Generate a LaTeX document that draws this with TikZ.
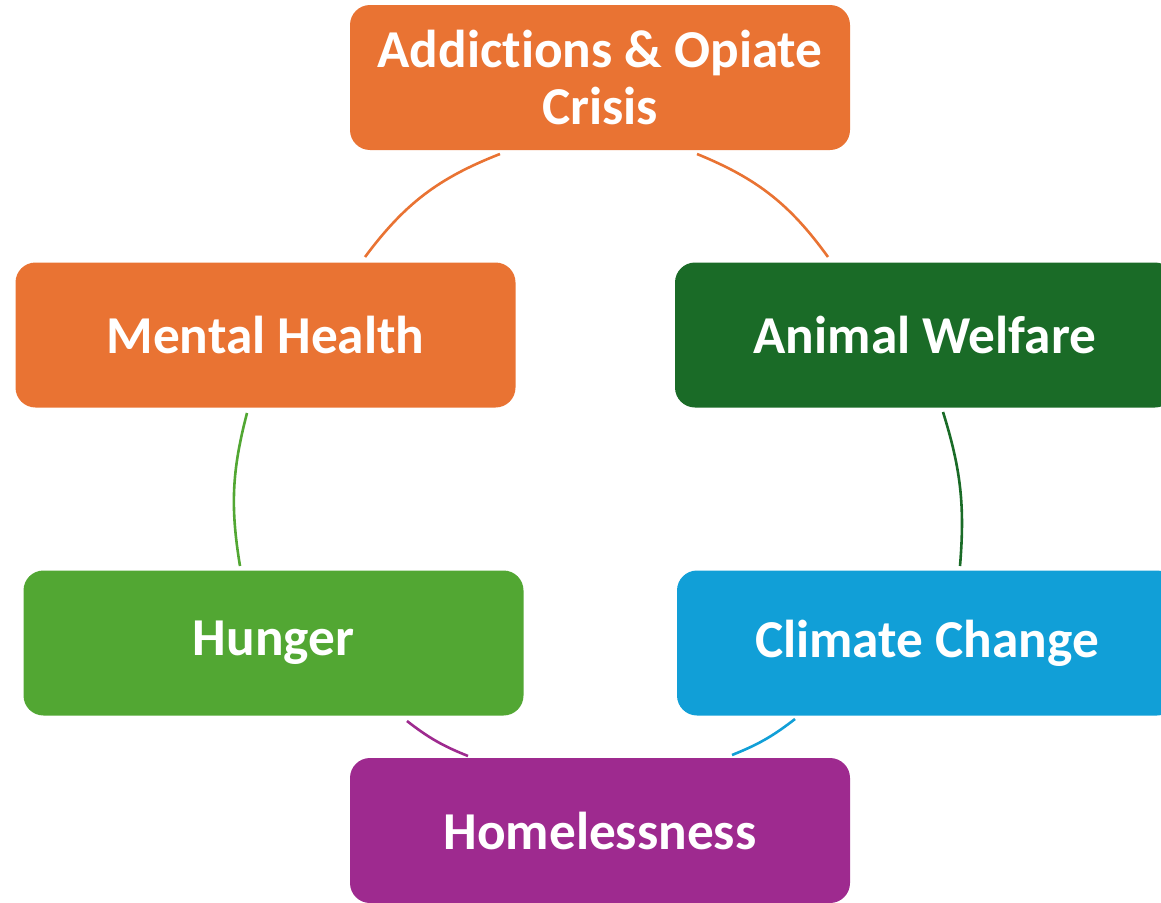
\documentclass[tikz,border=0pt]{standalone}
\usepackage{fontspec}
\setmainfont{Carlito}[Ligatures=NoCommon]
\definecolor{corange}{HTML}{E97333}
\definecolor{cdgreen}{HTML}{1A6B27}
\definecolor{cgreen}{HTML}{52A733}
\definecolor{cblue}{HTML}{119FD7}
\definecolor{cpurple}{HTML}{9E2A8F}
\begin{document}
\begin{tikzpicture}[x=1pt,y=-1pt,
  box/.style={rounded corners=20pt, minimum width=500pt, minimum height=145pt, inner sep=0pt,
    text=white, align=center, font=\fontsize{53.3}{57}\selectfont\bfseries},
  arcline/.style={line width=2.6pt}]
\useasboundingbox (0,0) rectangle (1161,902);
\node[box, fill=corange] (add) at (600,77.5) {Addictions \& Opiate\\Crisis};
\node[box, fill=corange] (mh) at (265.5,335) {Mental Health};
\node[box, fill=cdgreen] (aw) at (925,335) {Animal Welfare};
\node[box, fill=cgreen] (hu) at (273.5,643) {Hunger};
\node[box, fill=cblue] (cc) at (927,643) {Climate Change};
\node[box, fill=cpurple] (ho) at (600,830.5) {Homelessness};
% arc end points
\coordinate (a1) at (500,154);
\coordinate (a2) at (365,257);
\coordinate (b1) at (247,413);
\coordinate (b2) at (240,566);
\coordinate (c1) at (407,721);
\coordinate (c2) at (468,756);
\coordinate (d1) at (732,755);
\coordinate (d2) at (795,719);
\coordinate (e1) at (960,566);
\coordinate (e2) at (943,412);
\coordinate (f1) at (828,257);
\coordinate (f2) at (697,154);
\draw[arcline, corange] (a1) to[bend right=16] (a2);
\draw[arcline, cgreen] (b1) to[bend right=12] (b2);
\draw[arcline, cpurple] (c1) to[bend right=8] (c2);
\draw[arcline, cblue] (d1) to[bend right=8] (d2);
\draw[arcline, cdgreen] (e1) to[bend right=11] (e2);
\draw[arcline, corange] (f1) to[bend right=16] (f2);
\end{tikzpicture}
\end{document}
